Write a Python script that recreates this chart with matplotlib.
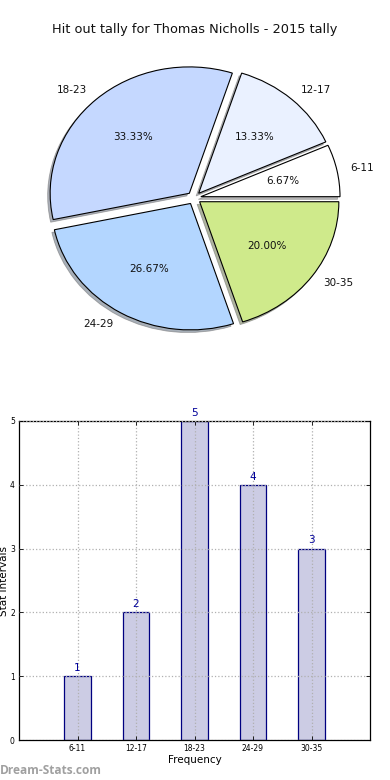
import matplotlib
matplotlib.use("Agg")
import matplotlib.pyplot as plt

title = "Hit out tally for Thomas Nicholls - 2015 tally"
categories = ["6-11", "12-17", "18-23", "24-29", "30-35"]
counts = [1, 2, 5, 4, 3]
pie_colors = ["#ffffff", "#eaf1ff", "#c5d8ff", "#b3d6ff", "#cfea8b"]
explode = [0.05, 0.05, 0.05, 0.05, 0.05]
yticks = [0, 1, 2, 3, 4, 5]

fig = plt.figure(figsize=(3.9, 7.8), dpi=100)
fig.text(0.5, 1 - 30 / 780, title, ha="center", va="center", fontsize=9.3, color="#111111")

# Pie
axp = fig.add_axes([20 / 390, 1 - 356 / 780, 348 / 390, 316 / 780])
wedges, texts, autotexts = axp.pie(
    counts, labels=categories, colors=pie_colors, explode=explode,
    autopct="%1.2f%%", shadow=dict(ox=-0.013, oy=-0.015, shade=0.55, edgecolor="#666666", linewidth=0.6),
    startangle=0, counterclock=True,
    wedgeprops=dict(edgecolor="black", linewidth=0.8),
    textprops=dict(fontsize=7.5, color="#111111"))
axp.set_aspect("auto")
axp.set_xlim(-1.25, 1.25)
axp.set_ylim(-1.25, 1.25)
axp.axis("off")

# Bars
axb = fig.add_axes([19 / 390, 40 / 780, 351 / 390, 319 / 780])
x = list(range(len(categories)))
bars = axb.bar(x, counts, width=0.45, color="#ccccE4", edgecolor="#000080", linewidth=0.9, zorder=1)
for xi, v in zip(x, counts):
    axb.text(xi, v + 0.05, str(v), ha="center", va="bottom", fontsize=7.5, color="#000099")
axb.set_xlim(-1, 5)
axb.set_ylim(0, 5)
axb.set_xticks(x)
axb.set_xticklabels(categories, fontsize=5.5)
axb.set_yticks(yticks)
axb.set_yticklabels([str(t) for t in yticks], fontsize=5.5)
axb.tick_params(direction="in", top=True, right=True, length=3, width=0.6, pad=3)
axb.grid(True, linestyle=":", color="#b0b0b0", linewidth=0.9, zorder=3)
axb.set_axisbelow(False)
axb.set_xlabel("Frequency", fontsize=7.5, labelpad=1)
axb.set_ylabel("Stat Intervals", fontsize=7.5, labelpad=1)
for s in axb.spines.values():
    s.set_linewidth(0.9)

fig.text(0.0, 1 - 770 / 780, "Dream-Stats.com", ha="left", va="center",
         fontsize=8.6, fontweight="bold", color="#a0a0a0", family="Open Sans")

fig.savefig("out.png", dpi=100)
